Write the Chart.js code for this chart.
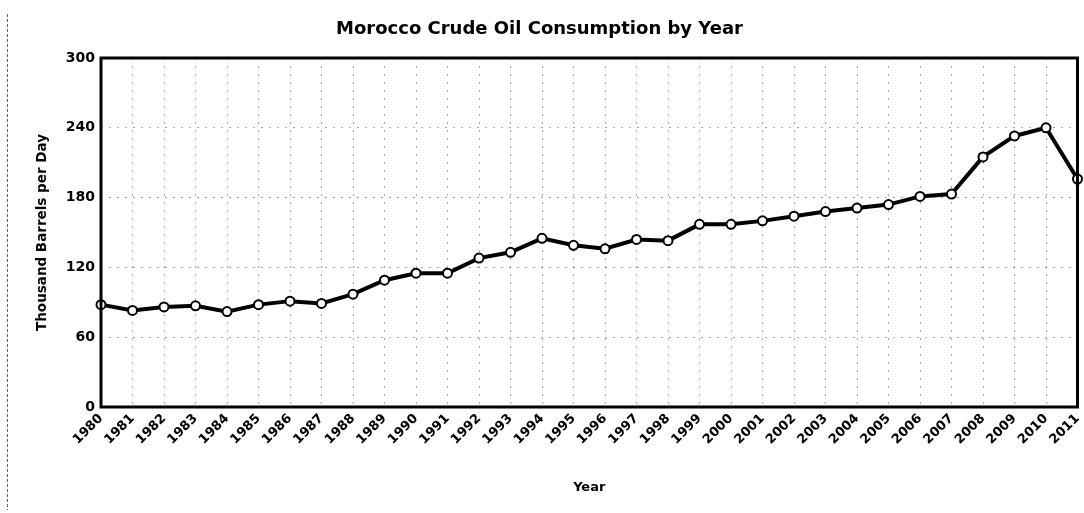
<!DOCTYPE html>
<html>
<head>
<meta charset="utf-8">
<script src="https://cdn.jsdelivr.net/npm/chart.js@4/dist/chart.umd.min.js"></script>
<style>
  html, body { margin: 0; padding: 0; background: #fff; }
  #wrap { width: 1084px; height: 513px; position: relative; }
</style>
</head>
<body>
<div id="wrap"><canvas id="consumption"></canvas></div>
<script>
var years = ['1980', '1981', '1982', '1983', '1984', '1985', '1986', '1987', '1988', '1989',
  '1990', '1991', '1992', '1993', '1994', '1995', '1996', '1997', '1998', '1999',
  '2000', '2001', '2002', '2003', '2004', '2005', '2006', '2007', '2008', '2009',
  '2010', '2011'];
var barrels = [88, 83, 86, 87, 82, 88, 91, 89, 97, 109,
  115, 115, 128, 133, 145, 139, 136, 144, 143, 157,
  157, 160, 164, 168, 171, 174, 181, 183, 215, 233,
  240, 196];
var yTicks = [0, 60, 120, 180, 240, 300];

var FONT = "'DejaVu Sans', Verdana, sans-serif";

// frame round the plot area plus the dashed margin rule on the far left
var framePlugin = {
  id: 'frame',
  beforeDraw: function (chart) {
    var ctx = chart.ctx;
    ctx.save();
    ctx.strokeStyle = '#666';
    ctx.lineWidth = 1;
    ctx.setLineDash([3, 2]);
    ctx.beginPath();
    ctx.moveTo(7.5, 14);
    ctx.lineTo(7.5, 510);
    ctx.stroke();
    ctx.restore();
  },
  afterDatasetsDraw: function (chart) {
    var a = chart.chartArea;
    var ctx = chart.ctx;
    ctx.save();
    ctx.strokeStyle = '#000';
    ctx.lineWidth = 3;
    ctx.strokeRect(a.left, a.top, a.right - a.left, a.bottom - a.top);
    ctx.restore();
  }
};

var config = {
  type: 'line',
  plugins: [framePlugin],
  data: {
    labels: years,
    datasets: [{
      data: barrels,
      borderColor: '#000',
      borderWidth: 4,
      tension: 0,
      pointRadius: 4.5,
      pointBorderWidth: 2,
      pointBackgroundColor: '#fff',
      pointBorderColor: '#000',
      clip: false
    }]
  },
  options: {
    responsive: true,
    maintainAspectRatio: false,
    animation: false,
    layout: { padding: { left: 0, right: 5, top: 0, bottom: 0 } },
    plugins: {
      legend: { display: false },
      tooltip: { enabled: false },
      title: {
        display: true,
        text: 'Morocco Crude Oil Consumption by Year',
        color: '#000',
        font: { family: FONT, size: 18, weight: 'bold', lineHeight: 1.2 },
        padding: { top: 19, bottom: 17.4 }
      }
    },
    scales: {
      x: {
        offset: false,
        grid: {
          display: true,
          drawTicks: false,
          color: 'rgba(0,0,0,0.35)',
          lineWidth: 1
        },
        border: { display: false, dash: [2, 6] },
        ticks: {
          color: '#000',
          autoSkip: false,
          minRotation: 45,
          maxRotation: 45,
          padding: 4,
          font: { family: FONT, size: 13, weight: 'bold' }
        },
        title: {
          display: true,
          text: 'Year',
          color: '#000',
          font: { family: FONT, size: 13, weight: 'bold', lineHeight: 1.2 },
          padding: { top: 0, bottom: 18 }
        },
        afterFit: function (scale) {
          scale.height = 106;
          scale.paddingLeft = 0;
          scale.paddingRight = 0;
        }
      },
      y: {
        min: 0,
        max: 300,
        afterBuildTicks: function (scale) {
          scale.ticks = yTicks.map(function (v) { return { value: v }; });
        },
        grid: {
          display: true,
          drawTicks: false,
          color: 'rgba(0,0,0,0.35)',
          lineWidth: 1
        },
        border: { display: false, dash: [2, 6] },
        ticks: {
          color: '#000',
          padding: 6,
          font: { family: FONT, size: 14, weight: 'bold' }
        },
        title: {
          display: true,
          text: 'Thousand Barrels per Day',
          color: '#000',
          font: { family: FONT, size: 13.5, weight: 'bold', lineHeight: 1.2 },
          padding: { top: 34, bottom: 0 }
        },
        afterFit: function (scale) {
          scale.width = 101;
          scale.paddingTop = 0;
          scale.paddingBottom = 0;
        }
      }
    }
  }
};

new Chart(document.getElementById('consumption').getContext('2d'), config);
</script>
</body>
</html>
